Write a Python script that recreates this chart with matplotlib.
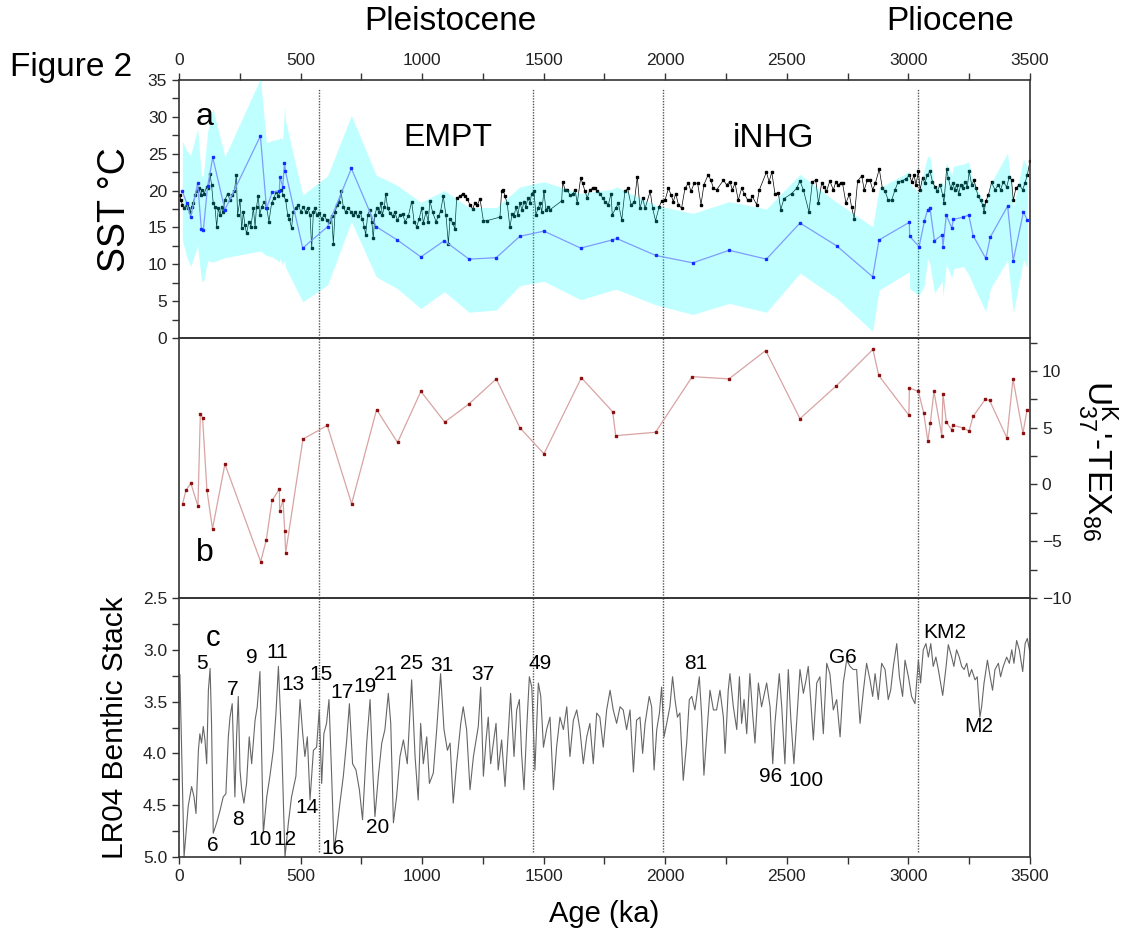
import matplotlib
matplotlib.use('Agg')
import matplotlib.pyplot as plt
from matplotlib.ticker import MultipleLocator, FormatStrFormatter

plt.rcParams['font.family'] = ['Liberation Sans', 'DejaVu Sans']

# ---- panel a: SST ----
# black SST record (age ka, SST degC)
sst_age = [4, 8, 14, 22, 32, 38, 45, 52, 59, 66, 73, 82, 90, 96, 104, 114, 121, 128, 134, 141,
           148, 155, 162, 169, 175, 182, 189, 200, 210, 219, 228, 236, 241, 251, 258, 265, 271, 278, 288, 296,
           306, 313, 319, 326, 332, 340, 351, 361, 370, 381, 391, 399, 409, 420, 429, 439, 447, 454, 463, 470,
           480, 491, 502, 511, 521, 529, 539, 546, 553, 559, 566, 576, 587, 598, 607, 617, 628, 635, 642, 651,
           660, 666, 676, 685, 696, 707, 717, 724, 735, 745, 754, 762, 768, 776, 786, 793, 799, 806, 813, 823,
           831, 836, 845, 850, 858, 868, 879, 888, 898, 909, 920, 930, 943, 957, 967, 978, 988, 998, 1005, 1016,
           1025, 1032, 1043, 1057, 1067, 1076, 1087, 1098, 1108, 1115, 1126, 1135, 1142, 1156, 1167, 1176, 1186, 1197, 1208, 1217,
           1227, 1238, 1252, 1265, 1320, 1327, 1334, 1341, 1350, 1361, 1370, 1378, 1386, 1394, 1402, 1411, 1419, 1427, 1435, 1444,
           1450, 1460, 1468, 1477, 1485, 1492, 1501, 1509, 1519, 1526, 1574, 1578, 1588, 1597, 1608, 1619, 1629, 1638, 1652, 1660,
           1670, 1679, 1690, 1701, 1711, 1721, 1732, 1742, 1752, 1766, 1777, 1782, 1796, 1807, 1821, 1834, 1845, 1859, 1873, 1885,
           1896, 1907, 1917, 1938, 1948, 1960, 1975, 1985, 1999, 2013, 2024, 2033, 2043, 2054, 2067, 2081, 2095, 2106, 2119, 2133,
           2147, 2159, 2176, 2188, 2198, 2211, 2239, 2252, 2266, 2276, 2287, 2300, 2314, 2325, 2339, 2350, 2358, 2376, 2387, 2416,
           2427, 2438, 2451, 2465, 2475, 2488, 2520, 2540, 2554, 2568, 2591, 2605, 2619, 2630, 2643, 2652, 2663, 2677, 2691, 2702,
           2711, 2721, 2729, 2743, 2757, 2766, 2777, 2791, 2808, 2818, 2831, 2842, 2853, 2864, 2880, 2893, 2904, 2917, 2931, 2945,
           2958, 2972, 2990, 3004, 3013, 3023, 3031, 3041, 3048, 3058, 3068, 3077, 3089, 3099, 3109, 3119, 3130, 3141, 3146, 3157,
           3164, 3174, 3182, 3191, 3198, 3207, 3215, 3223, 3233, 3242, 3250, 3260, 3270, 3278, 3287, 3297, 3305, 3311, 3319, 3329,
           3342, 3356, 3370, 3379, 3390, 3404, 3415, 3424, 3431, 3442, 3456, 3470, 3479, 3489, 3500]
sst_val = [19.4, 18.7, 18.1, 17.7, 18.1, 17.6, 17.1, 17.8, 18.3, 19.4, 19.9, 20.3, 19.4, 20.1, 19.6, 20.5, 20.3, 22.2, 20.8, 18.3,
           17.8, 15.1, 17.6, 16.7, 17.8, 17.1, 18.7, 19.6, 18.7, 19.4, 19.9, 22.1, 16.7, 18.7, 14.9, 17.1, 15.3, 14.2, 15.8, 15.1,
           17.6, 15.1, 17.8, 19.3, 16.7, 17.8, 18.5, 17.6, 15.8, 18.3, 19.0, 19.8, 19.3, 20.1, 19.4, 18.7, 16.7, 16.2, 14.9, 17.1,
           17.7, 18.0, 17.1, 17.8, 17.1, 17.7, 16.7, 12.2, 17.1, 17.7, 16.7, 17.0, 16.2, 16.7, 16.0, 15.8, 16.5, 12.8, 17.1, 18.1,
           18.5, 19.9, 17.8, 17.1, 17.7, 17.1, 16.7, 17.1, 16.5, 17.1, 16.2, 15.1, 14.0, 16.7, 17.4, 15.8, 13.5, 16.7, 17.6, 17.1,
           18.3, 16.7, 17.8, 19.6, 17.7, 16.9, 16.5, 17.1, 16.0, 16.7, 16.8, 15.8, 16.5, 18.5, 15.8, 15.1, 16.2, 17.6, 15.6, 17.1,
           15.8, 18.6, 17.1, 15.8, 16.5, 17.2, 19.2, 16.7, 12.8, 16.2, 15.6, 14.8, 19.0, 19.2, 19.6, 19.2, 18.9, 18.0, 17.5, 18.3,
           18.0, 18.9, 15.9, 15.9, 16.4, 19.9, 20.1, 19.2, 18.3, 15.0, 16.8, 16.5, 17.8, 16.7, 18.3, 17.4, 18.5, 17.8, 19.0, 18.3,
           19.6, 19.9, 16.7, 17.6, 18.3, 17.1, 19.9, 17.4, 17.8, 17.4, 18.6, 21.2, 20.1, 20.1, 19.4, 19.5, 20.1, 18.3, 21.7, 21.0,
           19.9, 19.0, 20.1, 20.3, 20.3, 19.9, 19.6, 19.0, 18.5, 18.1, 19.6, 16.7, 17.6, 18.3, 16.0, 19.9, 20.3, 18.1, 18.5, 21.9,
           17.6, 19.0, 17.6, 19.9, 17.6, 15.9, 17.8, 18.6, 18.7, 20.3, 19.4, 18.5, 19.6, 18.1, 17.6, 20.3, 21.0, 19.9, 21.0, 21.0,
           18.1, 20.8, 22.1, 21.4, 20.3, 20.1, 21.4, 20.8, 21.2, 20.1, 21.0, 18.7, 20.3, 19.6, 18.7, 18.7, 19.2, 18.1, 20.1, 22.5,
           21.2, 22.5, 19.6, 19.7, 17.4, 18.9, 19.6, 20.3, 21.3, 20.1, 17.1, 21.2, 21.4, 18.3, 21.0, 20.5, 19.9, 21.3, 20.1, 21.2,
           20.8, 21.0, 21.0, 18.3, 19.5, 17.8, 16.2, 21.3, 22.0, 20.1, 21.4, 21.4, 20.1, 21.0, 22.9, 20.3, 19.9, 18.7, 18.7, 20.1,
           21.2, 21.3, 21.6, 22.1, 21.2, 22.1, 20.8, 22.6, 20.1, 21.7, 21.0, 22.1, 22.6, 21.2, 20.5, 19.9, 20.8, 19.4, 18.3, 22.9,
           21.7, 20.3, 21.0, 20.1, 20.8, 19.6, 20.8, 20.3, 21.2, 20.5, 22.6, 20.8, 21.4, 20.3, 19.2, 18.7, 18.1, 17.1, 18.6, 19.4,
           21.1, 20.1, 20.8, 20.1, 21.2, 20.5, 21.9, 21.4, 18.7, 20.3, 20.8, 20.1, 21.0, 22.1, 24.0]

# blue SST record with its uncertainty envelope (cyan)
blue_age = [14, 32, 48, 77, 92, 100, 118, 139, 189, 335, 360, 384, 413, 415, 427, 434, 438, 509, 611, 709,
            811, 898, 995, 1091, 1193, 1305, 1402, 1501, 1652, 1782, 1800, 1961, 2113, 2263, 2416, 2554, 2705, 2853, 2879, 3004,
            3005, 3044, 3066, 3079, 3089, 3107, 3139, 3142, 3156, 3178, 3185, 3226, 3248, 3266, 3318, 3337, 3408, 3431, 3473, 3489]
blue_val = [19.9, 18.3, 16.4, 21.0, 14.8, 14.6, 20.6, 24.5, 17.4, 27.4, 17.6, 19.8, 19.9, 21.9, 20.5, 23.8, 22.6, 12.2, 15.1, 23.0,
            15.1, 13.3, 11.0, 13.2, 10.7, 10.9, 13.8, 14.5, 12.2, 13.3, 13.5, 11.2, 10.2, 11.9, 10.7, 15.6, 12.5, 8.3, 13.3, 15.7,
            13.8, 12.4, 15.9, 17.4, 17.6, 13.2, 14.0, 12.4, 16.7, 14.9, 16.1, 16.4, 16.7, 13.9, 10.8, 13.7, 17.9, 10.5, 17.1, 16.0]
band_hi = [26.7, 25.4, 24.8, 28.4, 22.0, 21.9, 28.0, 31.2, 24.6, 35.2, 26.5, 26.8, 27.0, 27.2, 27.0, 31.4, 29.5, 19.4, 22.0, 30.2,
           22.1, 20.7, 18.4, 20.0, 17.7, 17.7, 20.5, 21.2, 19.6, 20.2, 20.5, 18.0, 16.9, 18.5, 17.5, 22.2, 18.4, 15.1, 20.3, 22.6,
           21.0, 19.6, 23.0, 24.7, 24.5, 20.3, 21.2, 19.6, 23.8, 22.1, 23.3, 23.6, 23.9, 21.1, 18.0, 20.9, 25.1, 17.7, 24.3, 23.2]
band_lo = [13.3, 11.0, 9.7, 12.5, 7.9, 7.6, 10.5, 10.3, 10.9, 11.8, 11.2, 11.0, 10.3, 10.8, 9.9, 10.5, 9.6, 4.9, 7.2, 15.8,
           8.3, 6.7, 4.0, 6.3, 3.5, 3.8, 7.1, 7.7, 5.2, 6.5, 6.6, 4.5, 3.2, 4.7, 3.5, 8.8, 5.4, 0.9, 6.5, 9.0,
           6.7, 5.8, 7.2, 10.8, 9.9, 6.1, 7.7, 5.5, 10.1, 8.1, 9.4, 9.7, 8.6, 7.2, 3.6, 6.7, 10.6, 3.4, 10.6, 9.5]

# ---- panel b: UK37' - TEX86 ----
diff_age = [15, 29, 49, 78, 88, 97, 115, 138, 189, 336, 359, 383, 413, 414, 428, 435, 439, 510, 610, 710,
            813, 899, 995, 1093, 1193, 1305, 1402, 1501, 1655, 1784, 1796, 1960, 2111, 2262, 2413, 2554, 2704, 2854, 2878, 3002,
            3004, 3041, 3063, 3080, 3090, 3105, 3137, 3142, 3156, 3178, 3182, 3224, 3249, 3266, 3316, 3334, 3405, 3430, 3471, 3488]
diff_val = [-1.7, -0.5, 0.1, -1.9, 6.2, 5.9, -0.5, -3.9, 1.8, -6.8, -4.9, -1.4, -0.4, -2.3, -1.4, -4.1, -6.0, 4.0, 5.2, -1.7,
            6.6, 3.7, 8.2, 5.5, 7.1, 9.3, 5.0, 2.7, 9.4, 6.4, 4.3, 4.6, 9.5, 9.3, 11.8, 5.8, 8.7, 11.9, 9.6, 6.1,
            8.5, 8.2, 6.3, 3.8, 5.4, 8.2, 4.3, 8.0, 5.5, 4.8, 5.2, 5.0, 4.7, 6.0, 7.5, 7.4, 4.1, 9.3, 4.5, 6.6]

# ---- panel c: LR04 benthic d18O stack ----
lr_age = [0, 4, 21, 38, 52, 62, 70, 80, 86, 93, 100, 107, 114, 121, 128, 134, 141, 155, 169, 182,
          193, 203, 210, 219, 230, 237, 244, 251, 258, 267, 278, 289, 299, 313, 322, 333, 347, 361, 374, 388,
          399, 409, 422, 436, 450, 463, 481, 498, 509, 518, 528, 539, 553, 566, 577, 587, 596, 607, 617, 628,
          638, 649, 662, 676, 690, 701, 714, 728, 742, 755, 772, 786, 797, 806, 820, 834, 847, 861, 871, 882,
          895, 909, 923, 939, 957, 971, 984, 994, 1005, 1019, 1030, 1046, 1060, 1076, 1090, 1104, 1115, 1128, 1142, 1159,
          1169, 1183, 1197, 1211, 1222, 1231, 1241, 1252, 1263, 1272, 1282, 1293, 1304, 1313, 1327, 1341, 1355, 1364, 1378, 1389,
          1400, 1409, 1419, 1430, 1441, 1451, 1464, 1478, 1488, 1499, 1512, 1526, 1540, 1553, 1567, 1581, 1595, 1608, 1622, 1636,
          1649, 1663, 1677, 1690, 1704, 1718, 1731, 1745, 1759, 1773, 1786, 1800, 1814, 1827, 1841, 1855, 1869, 1882, 1896, 1907,
          1917, 1934, 1944, 1954, 1965, 1976, 1985, 1995, 2006, 2019, 2030, 2040, 2050, 2060, 2074, 2088, 2099, 2109, 2122, 2140,
          2150, 2159, 2170, 2184, 2198, 2211, 2225, 2239, 2246, 2259, 2266, 2280, 2294, 2305, 2314, 2324, 2335, 2348, 2359, 2369,
          2383, 2396, 2417, 2431, 2442, 2451, 2469, 2479, 2492, 2506, 2516, 2529, 2540, 2554, 2568, 2579, 2588, 2598, 2609, 2623,
          2636, 2650, 2664, 2677, 2691, 2705, 2719, 2732, 2746, 2760, 2773, 2787, 2801, 2815, 2828, 2842, 2853, 2863, 2876, 2890,
          2904, 2917, 2927, 2938, 2952, 2963, 2976, 2986, 3000, 3013, 3027, 3041, 3050, 3061, 3072, 3082, 3092, 3102, 3113, 3123,
          3141, 3155, 3164, 3178, 3187, 3198, 3209, 3219, 3229, 3240, 3250, 3260, 3274, 3283, 3294, 3301, 3311, 3325, 3336, 3346,
          3356, 3370, 3379, 3390, 3404, 3415, 3425, 3434, 3445, 3456, 3470, 3480, 3489, 3500]
lr_val = [3.23, 3.24, 5.00, 4.51, 4.32, 4.42, 4.58, 3.97, 3.81, 3.90, 3.74, 3.87, 4.10, 3.39, 3.18, 3.71, 4.77, 4.67, 4.55, 4.42,
          4.39, 3.84, 3.65, 3.52, 4.42, 3.84, 3.45, 4.16, 4.35, 4.48, 4.29, 3.84, 4.10, 3.68, 3.55, 3.21, 4.77, 4.42, 4.22, 3.97,
          3.61, 3.16, 3.87, 5.00, 4.67, 4.42, 4.22, 3.48, 3.81, 4.03, 3.84, 4.45, 3.97, 3.94, 3.58, 4.29, 3.81, 3.71, 3.48, 4.22,
          4.93, 4.74, 4.48, 4.22, 3.87, 3.52, 4.10, 4.16, 4.35, 4.64, 3.90, 3.48, 4.16, 4.61, 4.22, 3.90, 3.77, 3.42, 3.71, 4.67,
          4.42, 4.03, 3.87, 4.10, 3.29, 4.03, 4.45, 3.71, 4.10, 3.84, 4.29, 4.19, 3.77, 3.23, 3.77, 3.97, 3.90, 4.48, 4.10, 3.71,
          3.55, 3.77, 4.35, 4.03, 3.87, 3.74, 3.36, 4.22, 3.87, 3.65, 4.10, 3.90, 3.71, 4.16, 3.87, 4.32, 3.77, 3.42, 4.03, 3.58,
          3.48, 4.00, 4.35, 3.77, 3.26, 3.36, 4.16, 3.32, 3.45, 3.94, 3.77, 3.65, 4.35, 3.94, 3.65, 3.77, 3.55, 4.03, 3.68, 3.58,
          3.77, 4.10, 3.84, 3.71, 4.10, 3.61, 3.65, 3.94, 3.58, 3.39, 3.58, 3.71, 3.55, 3.58, 3.77, 3.58, 4.18, 3.68, 3.65, 4.00,
          3.71, 3.45, 3.55, 4.16, 3.77, 3.61, 3.36, 3.84, 3.71, 3.55, 3.26, 3.48, 3.65, 3.61, 4.26, 3.90, 3.48, 3.45, 3.58, 3.26,
          3.65, 4.21, 3.84, 3.39, 3.58, 3.58, 3.39, 3.65, 4.00, 3.39, 3.23, 3.55, 3.77, 3.26, 3.71, 3.48, 3.81, 3.23, 3.61, 3.90,
          3.32, 3.55, 3.32, 3.55, 4.10, 3.71, 3.23, 3.55, 4.10, 3.19, 3.65, 4.10, 3.71, 3.19, 3.42, 3.29, 3.16, 3.48, 3.87, 3.32,
          3.26, 3.81, 3.13, 3.23, 3.58, 3.48, 3.84, 3.32, 3.10, 3.16, 3.19, 3.19, 3.71, 3.39, 3.13, 3.29, 3.45, 3.23, 3.48, 3.13,
          3.19, 3.48, 3.39, 3.16, 2.94, 3.26, 3.45, 3.10, 3.26, 3.45, 3.52, 3.10, 3.32, 3.00, 2.94, 3.07, 2.94, 3.16, 3.07, 3.19,
          3.44, 3.16, 2.95, 3.07, 3.16, 3.00, 3.07, 3.16, 3.19, 3.13, 3.26, 3.19, 3.29, 3.26, 3.65, 3.55, 3.32, 3.10, 3.26, 3.39,
          3.19, 3.13, 3.26, 3.16, 3.07, 3.13, 3.00, 3.13, 2.91, 3.00, 3.21, 2.94, 2.89, 3.03]

# marine isotope stage labels on the LR04 panel
mis_labels = ['5', '7', '9', '11', '13', '15', '17', '19', '21', '25', '31', '37', '49',
              '6', '8', '10', '12', '14', '16', '20', '81', '96', '100', 'G6', 'KM2', 'M2']
mis_age = [93, 222, 299, 404, 468, 584, 669, 765, 851, 957, 1080, 1251, 1485,
           139, 241, 333, 436, 528, 635, 815, 2127, 2435, 2579, 2730, 3150, 3288]
mis_d18o = [3.13, 3.38, 3.07, 3.03, 3.33, 3.24, 3.41, 3.35, 3.24, 3.13, 3.15, 3.24, 3.13,
            4.89, 4.64, 4.83, 4.83, 4.52, 4.92, 4.72, 3.13, 4.22, 4.26, 3.07, 2.83, 3.74]

boundaries = [577, 1456, 1991, 3040]

fig = plt.figure(figsize=(11.22, 9.4), dpi=100)
ax1 = fig.add_axes([0.1595, 0.6404, 0.7585, 0.2745])
ax2 = fig.add_axes([0.1595, 0.3638, 0.7585, 0.2766])
ax3 = fig.add_axes([0.1595, 0.0883, 0.7585, 0.2755])

for ax in (ax1, ax2, ax3):
    ax.set_xlim(0, 3500)
    ax.set_facecolor('none')
    for s in ax.spines.values():
        s.set_linewidth(1.2)
        s.set_color('#333333')
    ax.tick_params(which='both', direction='out', length=5, width=1, labelsize=12.5, colors='#333333',
                   labelcolor='#222222')
    ax.xaxis.set_major_locator(MultipleLocator(500))
    ax.xaxis.set_minor_locator(MultipleLocator(250))

# panel a
ax1.plot(sst_age, sst_val, color='black', lw=0.5, marker='s', ms=1.8, zorder=2)
ax1.fill_between(blue_age, band_lo, band_hi, color='cyan', alpha=0.25, lw=0, zorder=3)
ax1.plot(blue_age, blue_val, color='#7f9bff', lw=0.9, marker='s', ms=2.0, mfc='#1030ff', mec='#1030ff', zorder=4)
ax1.set_ylim(0, 35)
ax1.yaxis.set_major_locator(MultipleLocator(5))
ax1.yaxis.set_minor_locator(MultipleLocator(2.5))
ax1.xaxis.tick_top()
ax1.tick_params(axis='x', which='both', bottom=False, labelbottom=False, top=True, labeltop=True)
ax1.text(107, 30.0, 'a', fontsize=23, ha='center', va='center')
ax1.text(1106, 27.1, 'EMPT', fontsize=23, ha='center', va='center')
ax1.text(2445, 27.1, 'iNHG', fontsize=24, ha='center', va='center')

# panel b
ax2.plot(diff_age, diff_val, color='#d9a3a3', lw=0.9, marker='s', ms=2.0, mfc='#8b1010', mec='#8b1010')
ax2.set_ylim(-10, 12.9)
ax2.yaxis.tick_right()
ax2.yaxis.set_major_locator(MultipleLocator(5))
ax2.yaxis.set_minor_locator(MultipleLocator(2.5))
ax2.tick_params(axis='x', which='both', bottom=False, labelbottom=False, top=False)
ax2.text(107, -6.0, 'b', fontsize=23, ha='center', va='center')

# panel c
ax3.plot(lr_age, lr_val, color='#666666', lw=0.8)
ax3.set_ylim(5.0, 2.5)
ax3.yaxis.set_major_locator(MultipleLocator(0.5))
ax3.yaxis.set_minor_locator(MultipleLocator(0.25))
ax3.yaxis.set_major_formatter(FormatStrFormatter('%.1f'))
ax3.text(139, 2.89, 'c', fontsize=21, ha='center', va='center')
for lab, a, d in zip(mis_labels, mis_age, mis_d18o):
    ax3.text(a, d, lab, fontsize=15, ha='center', va='center')
ax3.set_xlabel('Age (ka)', fontsize=21, labelpad=12)

# stage boundaries
for b in boundaries:
    ax1.axvline(b, ymin=0, ymax=0.965, color='#555555', lw=1, ls=(0, (1, 1)), zorder=1)
    ax2.axvline(b, color='#555555', lw=1, ls=(0, (1, 1)), zorder=1)
    ax3.axvline(b, ymin=0.02, ymax=1, color='#555555', lw=1, ls=(0, (1, 1)), zorder=1)

# axis titles
fig.text(0.1025, 0.777, 'SST °C', fontsize=27, rotation=90, ha='center', va='center')
fig.text(0.1025, 0.2255, 'LR04 Benthic Stack', fontsize=21.5, rotation=90, ha='center', va='center')
fig.text(0.978, 0.51, r"U$^{\mathregular{K}}_{\mathregular{37}}$'-TEX$_{\mathregular{86}}$", fontsize=24,
         rotation=270, ha='center', va='center')
fig.text(0.009, 0.928, 'Figure 2', fontsize=24, ha='left', va='center')
fig.text(0.401, 0.977, 'Pleistocene', fontsize=24, ha='center', va='center')
fig.text(0.847, 0.977, 'Pliocene', fontsize=24, ha='center', va='center')

fig.savefig('out.png', dpi=100)
